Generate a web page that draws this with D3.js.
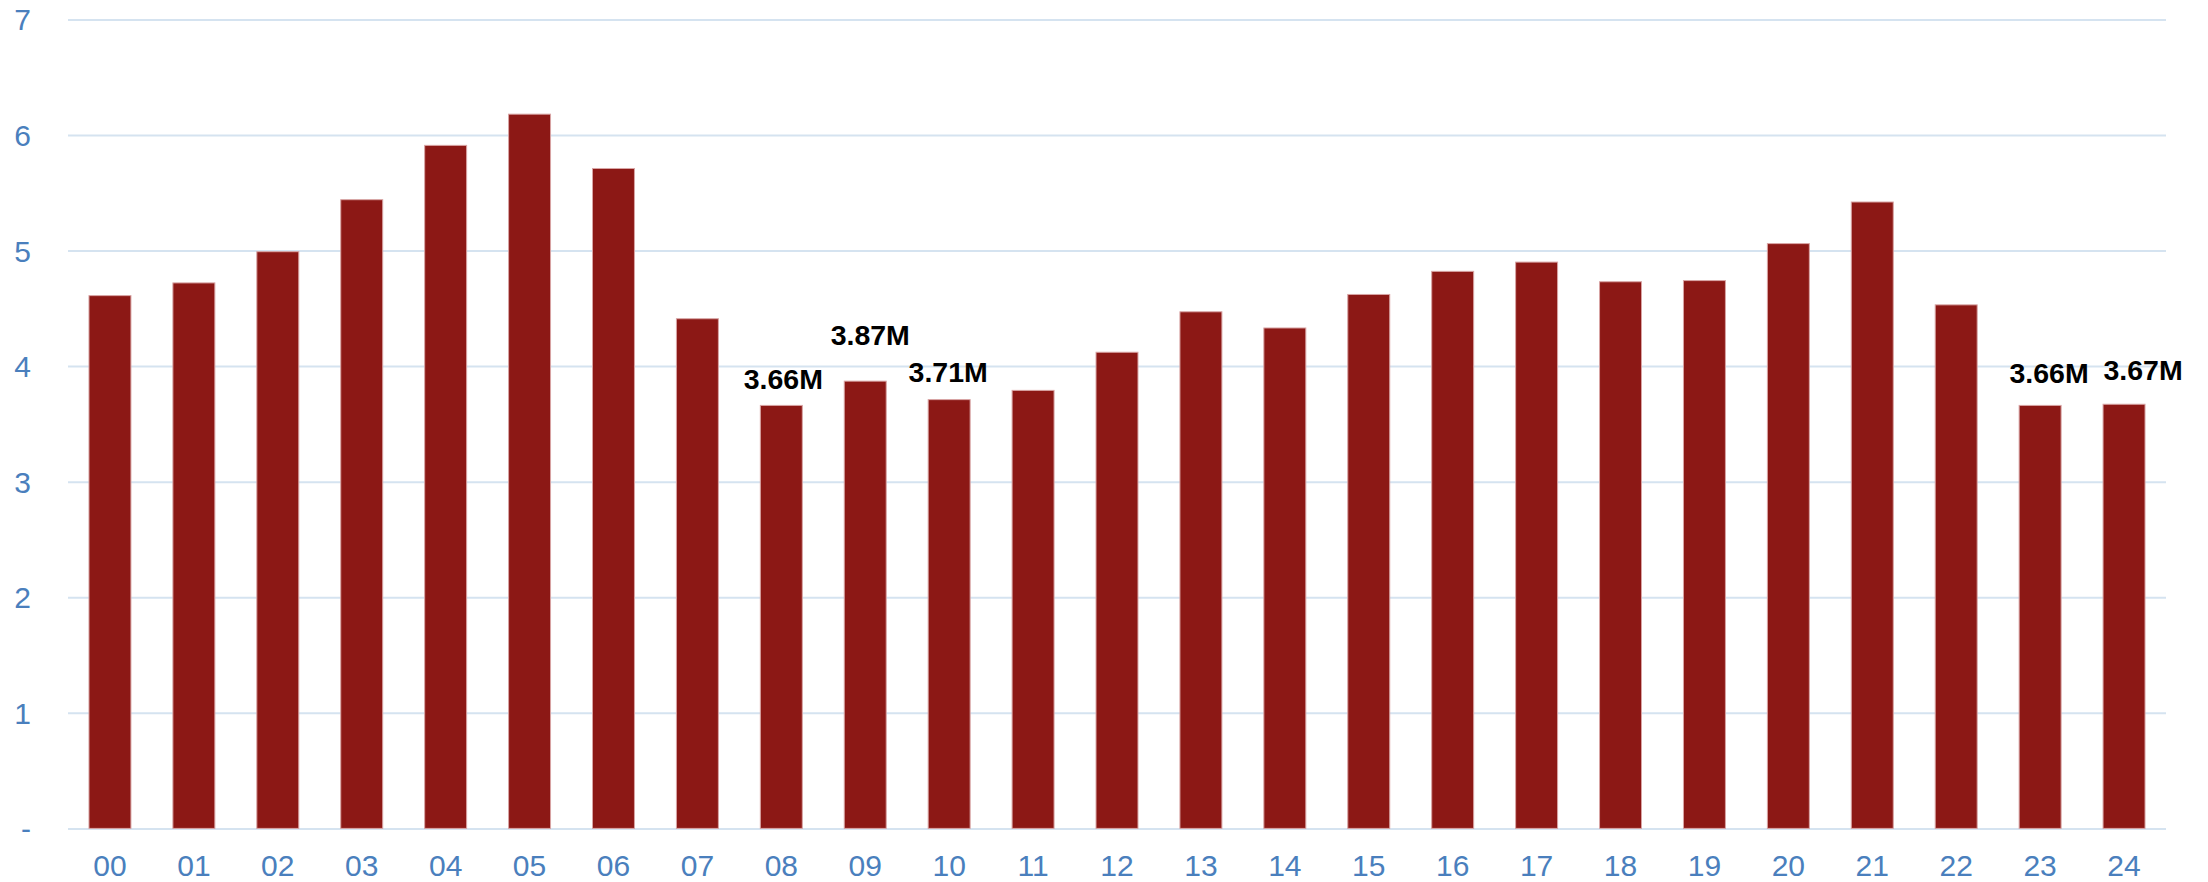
<!DOCTYPE html>
<html>
<head>
<meta charset="utf-8">
<script src="https://cdn.jsdelivr.net/npm/d3@7/dist/d3.min.js"></script>
<style>
  html, body { margin: 0; padding: 0; background: #ffffff; }
  svg { display: block; }
</style>
</head>
<body>
<svg id="chart" width="2208" height="882"></svg>
<script>
// Year labels along the x axis
const years = ["00","01","02","03","04","05","06","07","08","09","10","11","12",
               "13","14","15","16","17","18","19","20","21","22","23","24"];

// Annual values, in millions
const values = [4.61, 4.72, 4.99, 5.44, 5.91, 6.18, 5.71, 4.41, 3.66, 3.87, 3.71, 3.79, 4.12,
                4.47, 4.33, 4.62, 4.82, 4.90, 4.73, 4.74, 5.06, 5.42, 4.53, 3.66, 3.67];

// Y-axis ticks and their text ("-" marks zero)
const yTicks = [0, 1, 2, 3, 4, 5, 6, 7];
const yTickLabels = ["-", "1", "2", "3", "4", "5", "6", "7"];

// Years that carry a value callout
const labelledYears = ["08", "09", "10", "23", "24"];

// Callout nudges (dx, dy in px from the bar top centre)
const labelOffsets = [[2, -16], [5, -36], [-1, -18], [9, -22], [19, -24]];

const svg = d3.select("#chart");
const plotLeft = 68, plotRight = 2166, plotTop = 19.4, plotBottom = 828.4;

const x = d3.scaleBand().domain(years).range([plotLeft, plotRight]).paddingInner(0.5).paddingOuter(0.25);
const y = d3.scaleLinear().domain([0, 7]).range([plotBottom, plotTop]);

// Horizontal gridlines with y labels
const yAxis = d3.axisLeft(y)
  .tickValues(yTicks)
  .tickSize(-(plotRight - plotLeft))
  .tickFormat((d, i) => yTickLabels[i]);

const gy = svg.append("g").attr("transform", `translate(${plotLeft},0)`).call(yAxis);
gy.select(".domain").remove();
gy.selectAll(".tick line").attr("stroke", "#d5e3f0").attr("stroke-width", 2);
gy.selectAll(".tick text")
  .attr("x", 31 - plotLeft)
  .attr("text-anchor", "end")
  .attr("dy", "0.35em")
  .attr("fill", "#4a7fbd")
  .style("font-family", "'Liberation Sans', Arial, sans-serif")
  .style("font-size", "30px");

// Bars
svg.append("g").selectAll("rect")
  .data(values)
  .join("rect")
  .attr("x", (d, i) => x(years[i]))
  .attr("y", d => y(d))
  .attr("width", x.bandwidth())
  .attr("height", d => y(0) - y(d))
  .attr("fill", "#8c1815")
  .attr("stroke", "#d8a4a4")
  .attr("stroke-width", 1);

// X-axis labels
const xAxis = d3.axisBottom(x).tickSize(0).tickPadding(0);
const gx = svg.append("g").attr("transform", `translate(0,${plotBottom})`).call(xAxis);
gx.select(".domain").remove();
gx.selectAll(".tick text")
  .attr("y", 48)
  .attr("dy", 0)
  .attr("fill", "#4a7fbd")
  .style("font-family", "'Liberation Sans', Arial, sans-serif")
  .style("font-size", "30px");

// Value callouts
svg.append("g").selectAll("text")
  .data(labelledYears)
  .join("text")
  .attr("x", (yr, i) => x(yr) + x.bandwidth() / 2 + labelOffsets[i][0])
  .attr("y", (yr, i) => y(values[years.indexOf(yr)]) + labelOffsets[i][1])
  .attr("text-anchor", "middle")
  .attr("fill", "#000000")
  .style("font-family", "'Liberation Sans', Arial, sans-serif")
  .style("font-weight", "bold")
  .style("font-size", "28.5px")
  .text(yr => values[years.indexOf(yr)].toFixed(2) + "M");
</script>
</body>
</html>
